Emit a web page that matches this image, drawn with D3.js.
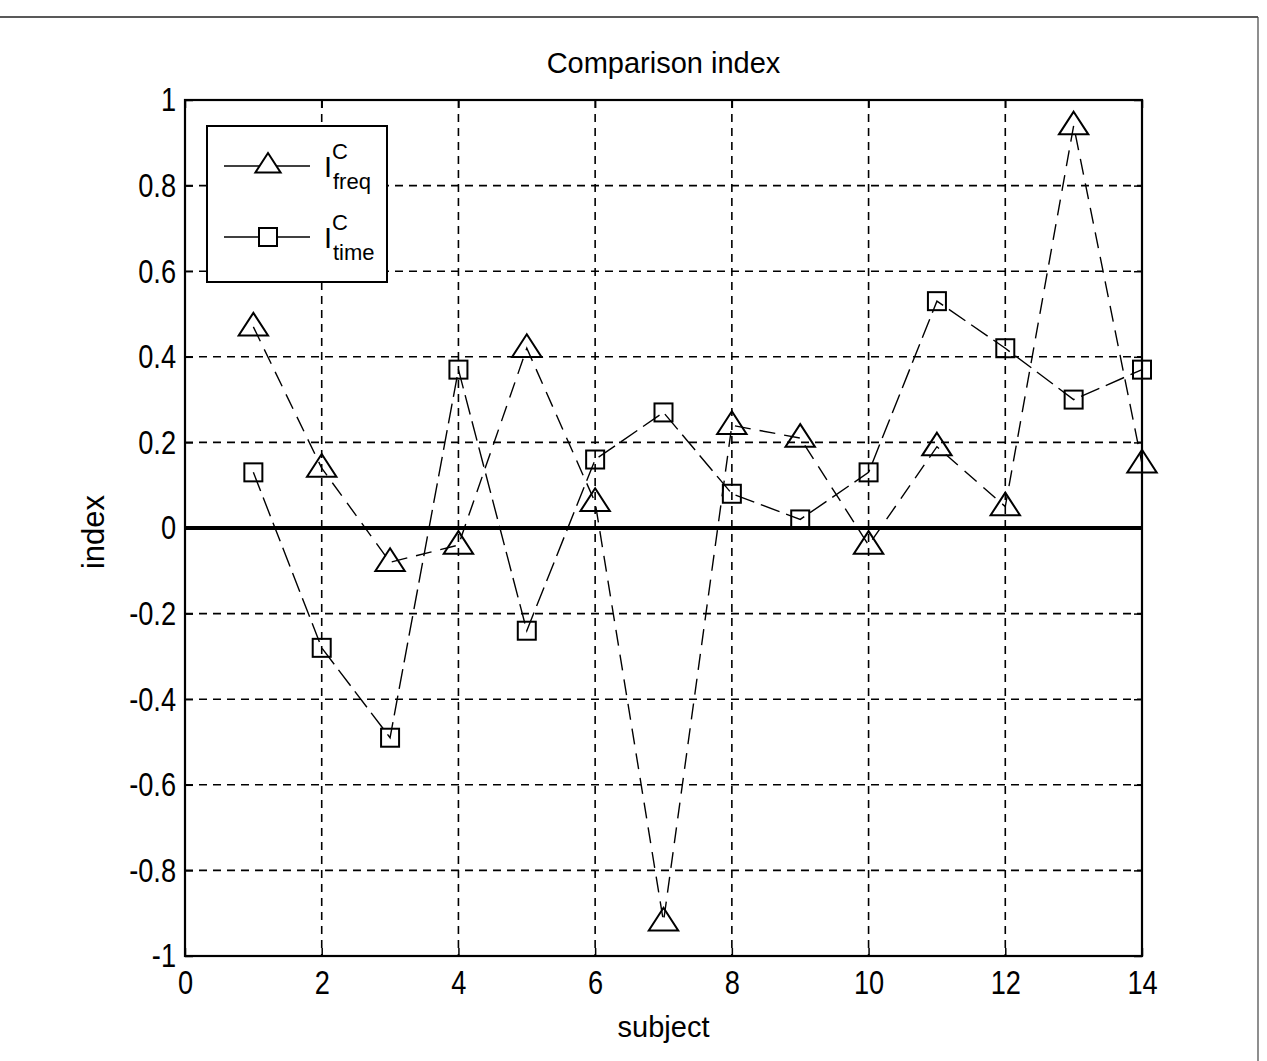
<!DOCTYPE html>
<html>
<head>
<meta charset="utf-8">
<script src="https://cdn.jsdelivr.net/npm/d3@7"></script>
<style>
  body { margin: 0; background: #fff; }
  text { font-family: "Liberation Sans", Arial, sans-serif; fill: #000; }
</style>
</head>
<body>
<svg id="chart" width="1267" height="1061"></svg>
<script>
// subjects 1..14
const subjects = [1, 2, 3, 4, 5, 6, 7, 8, 9, 10, 11, 12, 13, 14]
// I^C_freq (triangles)
const freqIndex = [0.47, 0.14, -0.08, -0.04, 0.42, 0.06, -0.92, 0.24, 0.21, -0.04, 0.19, 0.05, 0.94, 0.15]
// I^C_time (squares)
const timeIndex = [0.13, -0.28, -0.49, 0.37, -0.24, 0.16, 0.27, 0.08, 0.02, 0.13, 0.53, 0.42, 0.30, 0.37]

const xTicks = [0, 2, 4, 6, 8, 10, 12, 14]
const yTicks = [-1, -0.8, -0.6, -0.4, -0.2, 0, 0.2, 0.4, 0.6, 0.8, 1]

const svg = d3.select('#chart')
const margins = { left: 185, right: 125, top: 100, bottom: 105 }
const width = 1267 - margins.left - margins.right
const height = 1061 - margins.top - margins.bottom
const squeeze = 0.8 // tick labels are a narrow face

// figure frame (scanned page edges)
svg.append('line').attr('x1', 0).attr('x2', 1258).attr('y1', 17).attr('y2', 17)
  .attr('stroke', '#222').attr('stroke-width', 1.5)
svg.append('line').attr('x1', 1258).attr('x2', 1258).attr('y1', 17).attr('y2', 1061)
  .attr('stroke', '#444').attr('stroke-width', 1.2)

const g = svg.append('g').attr('transform', `translate(${margins.left},${margins.top})`)

const xScale = d3.scaleLinear().domain([0, 14]).range([0, width])
const yScale = d3.scaleLinear().domain([-1, 1]).range([height, 0])

// dashed grid
g.append('g').selectAll('line').data(xTicks.slice(1, -1)).join('line')
  .attr('x1', d => xScale(d)).attr('x2', d => xScale(d))
  .attr('y1', 0).attr('y2', height)
  .attr('stroke', '#000').attr('stroke-width', 1.6).attr('stroke-dasharray', '8,6')
g.append('g').selectAll('line').data(yTicks.slice(1, -1).filter(d => d !== 0)).join('line')
  .attr('x1', 0).attr('x2', width)
  .attr('y1', d => yScale(d)).attr('y2', d => yScale(d))
  .attr('stroke', '#000').attr('stroke-width', 1.6).attr('stroke-dasharray', '8,6')

// zero line
g.append('line').attr('x1', 0).attr('x2', width)
  .attr('y1', yScale(0)).attr('y2', yScale(0))
  .attr('stroke', '#000').attr('stroke-width', 4)

// axes, MATLAB style ticks pointing inward
const xAxis = g.append('g').attr('transform', `translate(0,${height})`)
  .call(d3.axisBottom(xScale).tickValues(xTicks).tickSize(-8).tickPadding(14).tickFormat(d => String(d)))
const yAxis = g.append('g')
  .call(d3.axisLeft(yScale).tickValues(yTicks).tickSize(-8).tickPadding(9).tickFormat(d => String(d)))
// top and right ticks
g.append('g').call(d3.axisTop(xScale).tickValues(xTicks).tickSize(-8).tickFormat(''))
g.append('g').attr('transform', `translate(${width},0)`)
  .call(d3.axisRight(yScale).tickValues(yTicks).tickSize(-8).tickFormat(''))
g.selectAll('.domain').remove()
g.selectAll('.tick line').attr('stroke', '#000').attr('stroke-width', 1.5)
;[xAxis, yAxis].forEach(a => {
  a.selectAll('text').style('font-size', '34px')
    .attr('x', function () { return (+d3.select(this).attr('x') || 0) / squeeze })
    .attr('transform', `scale(${squeeze},1)`)
})

// plot box
g.append('rect').attr('width', width).attr('height', height)
  .attr('fill', 'none').attr('stroke', '#000').attr('stroke-width', 2.2)

// series lines
const line = d3.line().x(d => xScale(d[0])).y(d => yScale(d[1]))
const freqPts = subjects.map((s, i) => [s, freqIndex[i]])
const timePts = subjects.map((s, i) => [s, timeIndex[i]])

g.append('path').datum(freqPts).attr('d', line)
  .attr('fill', 'none').attr('stroke', '#000').attr('stroke-width', 1.4).attr('stroke-dasharray', '16,9')
g.append('path').datum(timePts).attr('d', line)
  .attr('fill', 'none').attr('stroke', '#000').attr('stroke-width', 1.4).attr('stroke-dasharray', '20,7')

const triPath = (cx, cy, s) => `M${cx},${cy - s}L${cx + s * 1.05},${cy + s * 0.62}L${cx - s * 1.05},${cy + s * 0.62}Z`

g.append('g').selectAll('path').data(freqPts).join('path')
  .attr('d', d => triPath(xScale(d[0]), yScale(d[1]), 14))
  .attr('fill', 'none').attr('stroke', '#000').attr('stroke-width', 2)
g.append('g').selectAll('rect').data(timePts).join('rect')
  .attr('x', d => xScale(d[0]) - 9).attr('y', d => yScale(d[1]) - 9)
  .attr('width', 18).attr('height', 18)
  .attr('fill', 'none').attr('stroke', '#000').attr('stroke-width', 2)

// legend
const legend = g.append('g').attr('transform', 'translate(22,26)')
legend.append('rect').attr('width', 180).attr('height', 156)
  .attr('fill', '#fff').attr('stroke', '#000').attr('stroke-width', 2)
const legendItems = [
  { sub: 'freq', y: 40, marker: 'tri' },
  { sub: 'time', y: 111, marker: 'sq' }
]
legendItems.forEach(it => {
  legend.append('line').attr('x1', 17).attr('x2', 103).attr('y1', it.y).attr('y2', it.y)
    .attr('stroke', '#000').attr('stroke-width', 1.6)
  if (it.marker === 'tri') {
    legend.append('path').attr('d', triPath(61, it.y - 1, 12))
      .attr('fill', '#fff').attr('stroke', '#000').attr('stroke-width', 2)
  } else {
    legend.append('rect').attr('x', 52).attr('y', it.y - 9).attr('width', 18).attr('height', 18)
      .attr('fill', '#fff').attr('stroke', '#000').attr('stroke-width', 2)
  }
  const t = legend.append('text').attr('x', 117).attr('y', it.y + 11).style('font-size', '29px')
  t.append('tspan').text('I')
  t.append('tspan').attr('dy', -18).style('font-size', '22px').text('C')
  t.append('tspan').attr('x', 126).attr('dy', 30).style('font-size', '22px').text(it.sub)
})

// title and axis labels
svg.append('text').attr('x', margins.left + width / 2).attr('y', 73)
  .attr('text-anchor', 'middle').style('font-size', '29px').text('Comparison index')
svg.append('text').attr('x', margins.left + width / 2).attr('y', 1037)
  .attr('text-anchor', 'middle').style('font-size', '29px').text('subject')
svg.append('text').attr('transform', `translate(104,${margins.top + height / 2 + 4}) rotate(-90)`)
  .attr('text-anchor', 'middle').style('font-size', '31px').text('index')
</script>
</body>
</html>
